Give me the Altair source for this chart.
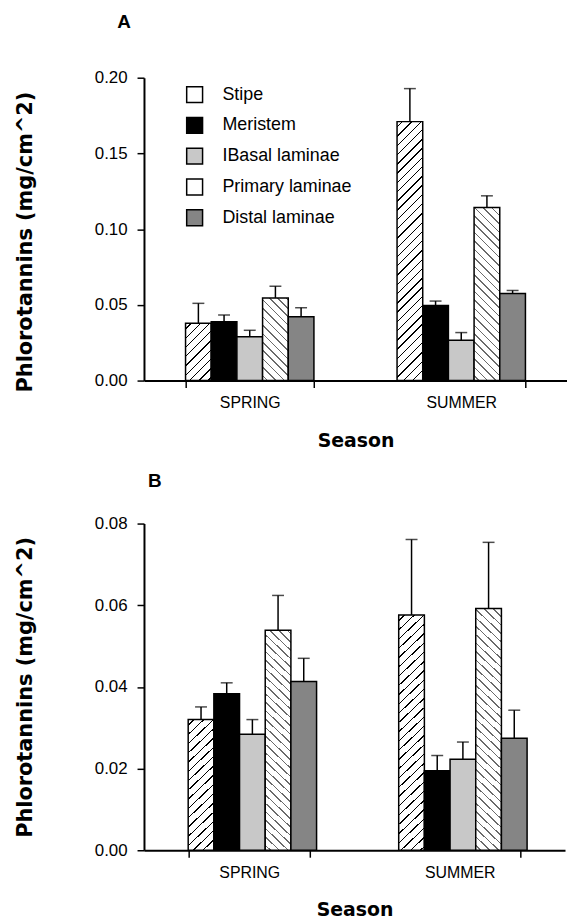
import math
import altair as alt

seasons = ["SPRING", "SUMMER"]
parts = ["Stipe", "Meristem", "IBasal laminae", "Primary  laminae", "Distal laminae"]

# Panel A (mean and top of error bar)
a_spring = [0.0378, 0.0389, 0.0289, 0.0546, 0.0422]
a_spring_err = [0.0510, 0.0433, 0.0332, 0.0623, 0.0481]
a_summer = [0.1710, 0.0496, 0.0267, 0.1143, 0.0575]
a_summer_err = [0.1928, 0.0525, 0.0317, 0.1220, 0.0595]

# Panel B
b_spring = [0.0320, 0.0383, 0.0284, 0.0539, 0.0413]
b_spring_err = [0.0351, 0.0410, 0.0320, 0.0624, 0.0470]
b_summer = [0.0576, 0.0195, 0.0223, 0.0592, 0.0274]
b_summer_err = [0.0761, 0.0232, 0.0265, 0.0754, 0.0343]

a_ticks = [0.0, 0.05, 0.10, 0.15, 0.20]
b_ticks = [0.0, 0.02, 0.04, 0.06, 0.08]

legend_colors = ["#ffffff", "#000000", "#c8c8c8", "#ffffff", "#858585"]

SQ2 = math.sqrt(2)


def hatch(w, h, spacing, thick, color, direction):
    """Linear gradient (bounding-box units) drawing 45-degree stripes."""
    h = max(h, 1.0)
    L = w + h
    k = L / (w * w + h * h)
    if direction == "/":
        x1, y1, x2, y2 = 0, 0, k * w, k * h
    else:
        x1, y1, x2, y2 = 0, 1, k * w, 1 - k * h
    step = spacing * SQ2
    half = thick * SQ2 / 2
    stops = [{"offset": 0, "color": "#ffffff"}]
    d = step * 0.6
    while d < L:
        a = max(0.0, (d - half) / L)
        b = min(1.0, (d + half) / L)
        stops += [
            {"offset": a, "color": "#ffffff"},
            {"offset": a, "color": color},
            {"offset": b, "color": color},
            {"offset": b, "color": "#ffffff"},
        ]
        d += step
    stops.append({"offset": 1, "color": "#ffffff"})
    return {"gradient": "linear", "x1": x1, "y1": y1, "x2": x2, "y2": y2, "stops": stops}


def build_rows(spring, spring_err, summer, summer_err, px_per_unit, bar_w):
    rows = []
    for season, vals, errs in (("SPRING", spring, spring_err), ("SUMMER", summer, summer_err)):
        for i, part in enumerate(parts):
            v = vals[i]
            hpx = v * px_per_unit
            if i == 0:
                fill = hatch(bar_w, hpx, 6.6, 1.0, "#000000", "/")
            elif i == 3:
                fill = hatch(bar_w, hpx, 6.0, 1.1, "#6a6a6a", "\\")
            else:
                fill = legend_colors[i]
            rows.append({"season": season, "part": part, "value": v, "err": errs[i], "fill": fill})
    return rows


def panel(rows, ymax, ticks, W, H, pin, pout, label, dx, toff, with_legend, title_y):
    base = alt.Chart(alt.Data(values=rows)).encode(
        x=alt.X(
            "season:N",
            sort=seasons,
            scale=alt.Scale(paddingInner=pin, paddingOuter=pout),
            axis=alt.Axis(
                title="Season",
                labelAngle=0,
                tickBand="extent",
                domainWidth=2,
                domainColor="black",
                tickColor="black",
                tickWidth=1.5,
                tickSize=7,
                labelFont="Liberation Sans",
                labelFontSize=16,
                labelColor="black",
                labelPadding=7,
                titleFont="DejaVu Sans",
                titleFontWeight="bold",
                titleFontSize=19,
                titleColor="black",
                titlePadding=21,
            ),
        ),
        xOffset=alt.XOffset("part:N", sort=parts, scale=alt.Scale(paddingInner=0, paddingOuter=0)),
    )
    yscale = alt.Scale(domain=[0, ymax], nice=False, zero=True)
    yaxis_kwargs = dict(
        values=ticks,
        format=".2f",
        title="Phlorotannins  (mg/cm^2)",
        grid=False,
        domainWidth=2,
        domainColor="black",
        tickColor="black",
        tickWidth=1.5,
        tickSize=7,
        labelFont="Liberation Sans",
        labelFontSize=17,
        labelColor="black",
        labelPadding=10,
        titleFont="DejaVu Sans",
        titleFontWeight="bold",
        titleFontSize=21,
        titleColor="black",
        titlePadding=59,
    )
    if title_y is not None:
        yaxis_kwargs["titleY"] = title_y
    bars = base.mark_bar(stroke="black", strokeWidth=1.5).encode(
        y=alt.Y("value:Q", stack=None, scale=yscale, axis=alt.Axis(**yaxis_kwargs)),
        fill=alt.Fill("fill:N", scale=None),
    )
    err_rule = base.mark_rule(color="black", strokeWidth=1.5).encode(
        y=alt.Y("value:Q", scale=yscale), y2="err:Q"
    )
    err_cap = base.mark_tick(color="black", thickness=1.5, size=12).encode(
        y=alt.Y("err:Q", scale=yscale)
    )
    layers = [bars, err_rule, err_cap]
    if with_legend:
        legend_layer = (
            base.mark_square(filled=True)
            .encode(
                y=alt.Y("value:Q", scale=yscale),
                color=alt.Color(
                    "part:N",
                    sort=parts,
                    scale=alt.Scale(domain=parts, range=legend_colors),
                    legend=alt.Legend(
                        title=None,
                        orient="none",
                        legendX=42,
                        legendY=8,
                        symbolType="square",
                        symbolSize=256,
                        symbolStrokeColor="black",
                        symbolStrokeWidth=1.5,
                        symbolOpacity=1,
                        labelFont="Liberation Sans",
                        labelFontSize=18,
                        labelColor="black",
                        labelOffset=19,
                        labelLimit=0,
                        rowPadding=9,
                    ),
                ),
            )
            .transform_filter("datum.value < 0")
        )
        layers.append(legend_layer)
    return alt.layer(*layers).properties(
        width=W,
        height=H,
        title=alt.TitleParams(
            text=label,
            anchor="start",
            frame="group",
            dx=dx,
            font="Liberation Sans",
            fontWeight="bold",
            fontSize=19,
            color="black",
            offset=toff,
        ),
    )


WA, HA = 426, 305
WB, HB = 424, 329
pinA, poutA = 0.393, 0.1965
pinB, poutB = 0.42, 0.21
bwA = WA / (2 - pinA + 2 * poutA) * (1 - pinA) / 5
bwB = WB / (2 - pinB + 2 * poutB) * (1 - pinB) / 5

rows_a = build_rows(a_spring, a_spring_err, a_summer, a_summer_err, HA / 0.20, bwA)
rows_b = build_rows(b_spring, b_spring_err, b_summer, b_summer_err, HB / 0.08, bwB)

chart_a = panel(rows_a, 0.20, a_ticks, WA, HA, pinA, poutA, "A", -27, 37, True, 165)
chart_b = panel(rows_b, 0.08, b_ticks, WB, HB, pinB, poutB, "B", 4, 24, False, None)

chart = (
    alt.vconcat(chart_a, chart_b, spacing=22)
    .properties(padding={"left": 14, "top": 10, "right": 0, "bottom": 0}, background="white")
    .configure_view(stroke=None)
)

chart.save("out.html", embed_options={"renderer": "svg", "actions": False})
